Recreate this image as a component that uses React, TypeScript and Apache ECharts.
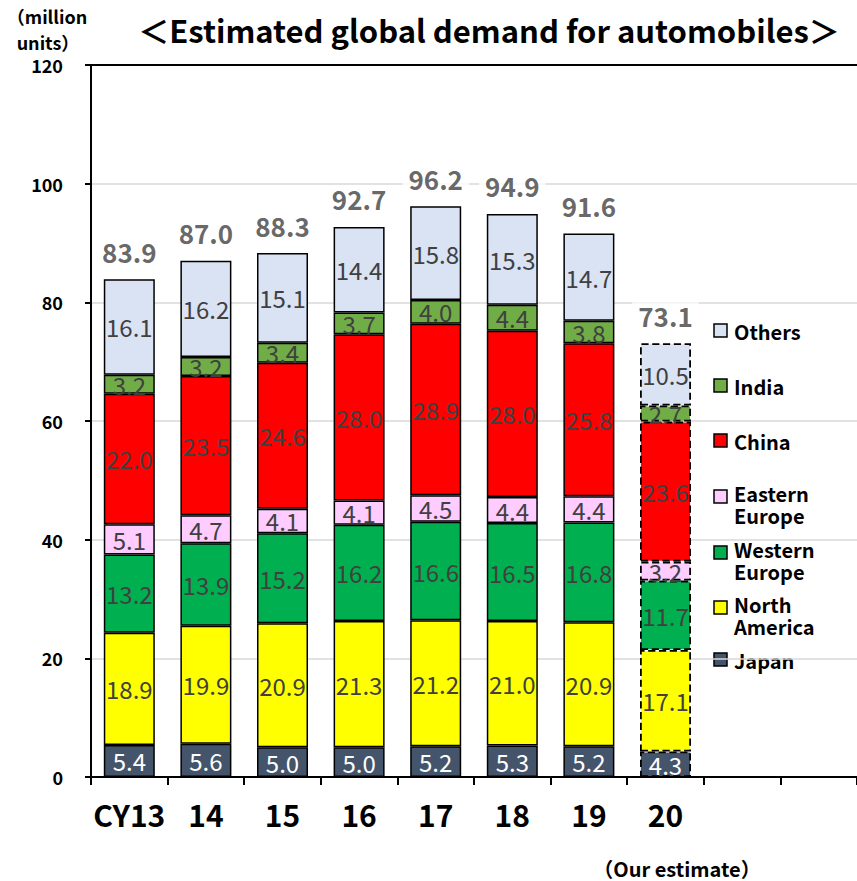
import React, { useEffect, useRef } from "react";
import * as echarts from "echarts";

// Calendar years on the x axis; the two trailing blanks leave room for the legend.
const categories = ["CY13", "14", "15", "16", "17", "18", "19", "20", "", ""];

// Regional demand, million units (bottom of the stack first)
const japan = [5.4, 5.6, 5.0, 5.0, 5.2, 5.3, 5.2, 4.3];
const northAmerica = [18.9, 19.9, 20.9, 21.3, 21.2, 21.0, 20.9, 17.1];
const westernEurope = [13.2, 13.9, 15.2, 16.2, 16.6, 16.5, 16.8, 11.7];
const easternEurope = [5.1, 4.7, 4.1, 4.1, 4.5, 4.4, 4.4, 3.2];
const china = [22.0, 23.5, 24.6, 28.0, 28.9, 28.0, 25.8, 23.6];
const india = [3.2, 3.2, 3.4, 3.7, 4.0, 4.4, 3.8, 2.7];
const others = [16.1, 16.2, 15.1, 14.4, 15.8, 15.3, 14.7, 10.5];

// Totals printed above each column
const totals = [83.9, 87.0, 88.3, 92.7, 96.2, 94.9, 91.6, 73.1];

// Y axis ticks
const yMin = 0;
const yMax = 120;
const yStep = 20;

// Index of the estimated year (drawn with dashed outlines)
const estimateIndex = 7;

const FONT = '"Noto Sans CJK JP", "Noto Sans", sans-serif';

const regions = [
  { name: "Japan", legend: "Japan", data: japan, color: "#44546a", labelColor: "#ffffff" },
  { name: "North America", legend: "North\nAmerica", data: northAmerica, color: "#ffff00", labelColor: "#404040" },
  { name: "Western Europe", legend: "Western\nEurope", data: westernEurope, color: "#00b050", labelColor: "#404040" },
  { name: "Eastern Europe", legend: "Eastern\nEurope", data: easternEurope, color: "#ffccff", labelColor: "#404040" },
  { name: "China", legend: "China", data: china, color: "#ff0000", labelColor: "#404040" },
  { name: "India", legend: "India", data: india, color: "#70ad47", labelColor: "#404040" },
  { name: "Others", legend: "Others", data: others, color: "#dae3f3", labelColor: "#404040" },
];

// Legend rows, top to bottom: y of the first text line
const legendRows = [
  { name: "Others", y: 331 },
  { name: "India", y: 386 },
  { name: "China", y: 441 },
  { name: "Eastern Europe", y: 493 },
  { name: "Western Europe", y: 549 },
  { name: "North America", y: 604 },
  { name: "Japan", y: 660 },
];

const LEGEND_LINE = 22;

function buildLegend() {
  const els: any[] = [];
  legendRows.forEach((row) => {
    const r = regions.find((g) => g.name === row.name)!;
    const multi = r.legend.includes("\n");
    els.push({
      type: "rect",
      shape: { x: 714, y: row.y - 7 + (multi ? 4 : 0), width: 13, height: 13 },
      style: { fill: r.color, stroke: "#000", lineWidth: 1.5 },
    });
    els.push({
      type: "text",
      x: 734,
      y: row.y - LEGEND_LINE / 2,
      style: {
        text: r.legend,
        fill: "#000",
        font: `bold 20px ${FONT}`,
        lineHeight: LEGEND_LINE,
        textVerticalAlign: "top",
        textAlign: "left",
      },
    });
  });
  return els;
}

export default function App() {
  const ref = useRef<HTMLDivElement>(null);

  useEffect(() => {
    if (!ref.current) return;
    const chart = echarts.init(ref.current, undefined, { renderer: "svg" });

    const barSeries = regions.map((r) => ({
      name: r.name,
      type: "bar",
      stack: "total",
      barWidth: 51,
      data: r.data.map((v, i) => ({
        value: v,
        itemStyle:
          i === estimateIndex
            ? { borderType: "dashed", borderColor: "#000", borderWidth: 1.8 }
            : undefined,
      })),
      itemStyle: { color: r.color, borderColor: "#000", borderWidth: 1.5 },
      label: {
        show: true,
        position: "inside",
        formatter: (p: any) => Number(p.value).toFixed(1),
        color: r.labelColor,
        fontSize: 24,
        fontFamily: FONT,
      },
      emphasis: { disabled: true },
    }));

    chart.setOption({
      animation: false,
      backgroundColor: "#ffffff",
      textStyle: { fontFamily: FONT },
      grid: { left: 91, top: 65, right: 0, bottom: 104, containLabel: false },
      xAxis: [
        {
          type: "category",
          data: categories,
          axisLine: { lineStyle: { color: "#000", width: 2 } },
          axisTick: { show: true, length: 8, interval: 0, lineStyle: { color: "#000", width: 2 } },
          axisLabel: {
            interval: 0,
            color: "#000",
            fontSize: 30,
            fontWeight: "bold",
            fontFamily: FONT,
            margin: 22,
          },
        },
        {
          type: "category",
          data: categories,
          position: "top",
          axisLine: { lineStyle: { color: "#000", width: 2 } },
          axisTick: { show: false },
          axisLabel: { show: false },
        },
      ],
      yAxis: {
        type: "value",
        min: yMin,
        max: yMax,
        interval: yStep,
        axisLine: { show: true, lineStyle: { color: "#000", width: 2 } },
        axisTick: { show: true, length: 6, lineStyle: { color: "#000", width: 2 } },
        axisLabel: {
          color: "#000",
          fontSize: 18,
          fontWeight: "bold",
          fontFamily: FONT,
          margin: 28,
        },
        splitLine: { lineStyle: { color: "#d9d9d9", width: 1.5 } },
      },
      series: [
        ...barSeries,
        {
          name: "Total",
          type: "scatter",
          data: totals,
          symbolSize: 0,
          z: 10,
          label: {
            show: true,
            position: "top",
            distance: 15,
            formatter: (p: any) => Number(p.value).toFixed(1),
            color: "#404040",
            fontSize: 26,
            fontWeight: "bold",
            fontFamily: FONT,
            backgroundColor: "#ffffff",
            padding: [0, 6],
          },
          emphasis: { disabled: true },
        },
      ],
      graphic: [
        {
          type: "text",
          x: 489,
          y: 29,
          style: {
            text: "＜Estimated global demand for automobiles＞",
            fill: "#000",
            font: `bold 31px ${FONT}`,
            textAlign: "center",
            textVerticalAlign: "middle",
          },
        },
        {
          type: "text",
          x: 47,
          y: 16,
          style: {
            text: "（million",
            fill: "#000",
            font: `bold 18px ${FONT}`,
            textAlign: "center",
            textVerticalAlign: "middle",
          },
        },
        {
          type: "text",
          x: 48,
          y: 42,
          style: {
            text: "units）",
            fill: "#000",
            font: `bold 18px ${FONT}`,
            textAlign: "center",
            textVerticalAlign: "middle",
          },
        },
        {
          type: "text",
          x: 677,
          y: 868,
          style: {
            text: "（Our estimate）",
            fill: "#000",
            font: `bold 20px ${FONT}`,
            textAlign: "center",
            textVerticalAlign: "middle",
          },
        },
        ...buildLegend(),
      ],
    });

    return () => chart.dispose();
  }, []);

  return (
    <div
      ref={ref}
      style={{ position: "fixed", left: 0, top: 0, width: 857, height: 881, background: "#fff" }}
    />
  );
}
